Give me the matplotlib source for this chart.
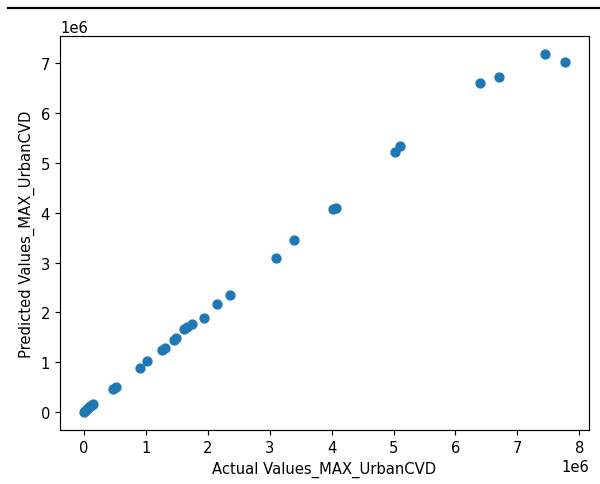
import matplotlib
matplotlib.use('Agg')
import matplotlib.pyplot as plt
from matplotlib.lines import Line2D
import numpy as np

# values, in units of 1e6
actual = [0.00, 0.02, 0.04, 0.07, 0.10, 0.13, 0.15,
          0.46, 0.51, 0.90, 1.01, 1.26, 1.31, 1.45, 1.48,
          1.61, 1.67, 1.75, 1.94, 2.15, 2.35, 3.10, 3.40,
          4.03, 4.07, 5.03, 5.11, 6.40, 6.71, 7.45, 7.77]
predicted = [0.00, 0.03, 0.06, 0.09, 0.12, 0.15, 0.17,
             0.47, 0.51, 0.88, 1.03, 1.25, 1.29, 1.45, 1.49,
             1.67, 1.71, 1.76, 1.88, 2.18, 2.36, 3.09, 3.46,
             4.08, 4.10, 5.23, 5.35, 6.60, 6.73, 7.19, 7.03]

scale = 1.066
plt.rcParams['font.size'] = 10 * scale
plt.rcParams['axes.linewidth'] = 0.8 * scale
plt.rcParams['xtick.major.width'] = 0.8 * scale
plt.rcParams['ytick.major.width'] = 0.8 * scale
plt.rcParams['xtick.major.size'] = 3.5 * scale
plt.rcParams['ytick.major.size'] = 3.5 * scale

fig = plt.figure(figsize=(6.0, 4.85), dpi=100)
ax = fig.add_axes([0.1, 0.1113, 0.8817, 0.8124])

ax.scatter(np.array(actual) * 1e6, np.array(predicted) * 1e6, s=36 * scale ** 2)
ax.set_xlabel('Actual Values_MAX_UrbanCVD')
ax.set_ylabel('Predicted Values_MAX_UrbanCVD')

# cell border line from the notebook screenshot
fig.add_artist(Line2D([8 / 600, 1.0], [1 - 9 / 485, 1 - 9 / 485],
                      color='black', linewidth=1.6))

fig.savefig('out.png', dpi=100)
